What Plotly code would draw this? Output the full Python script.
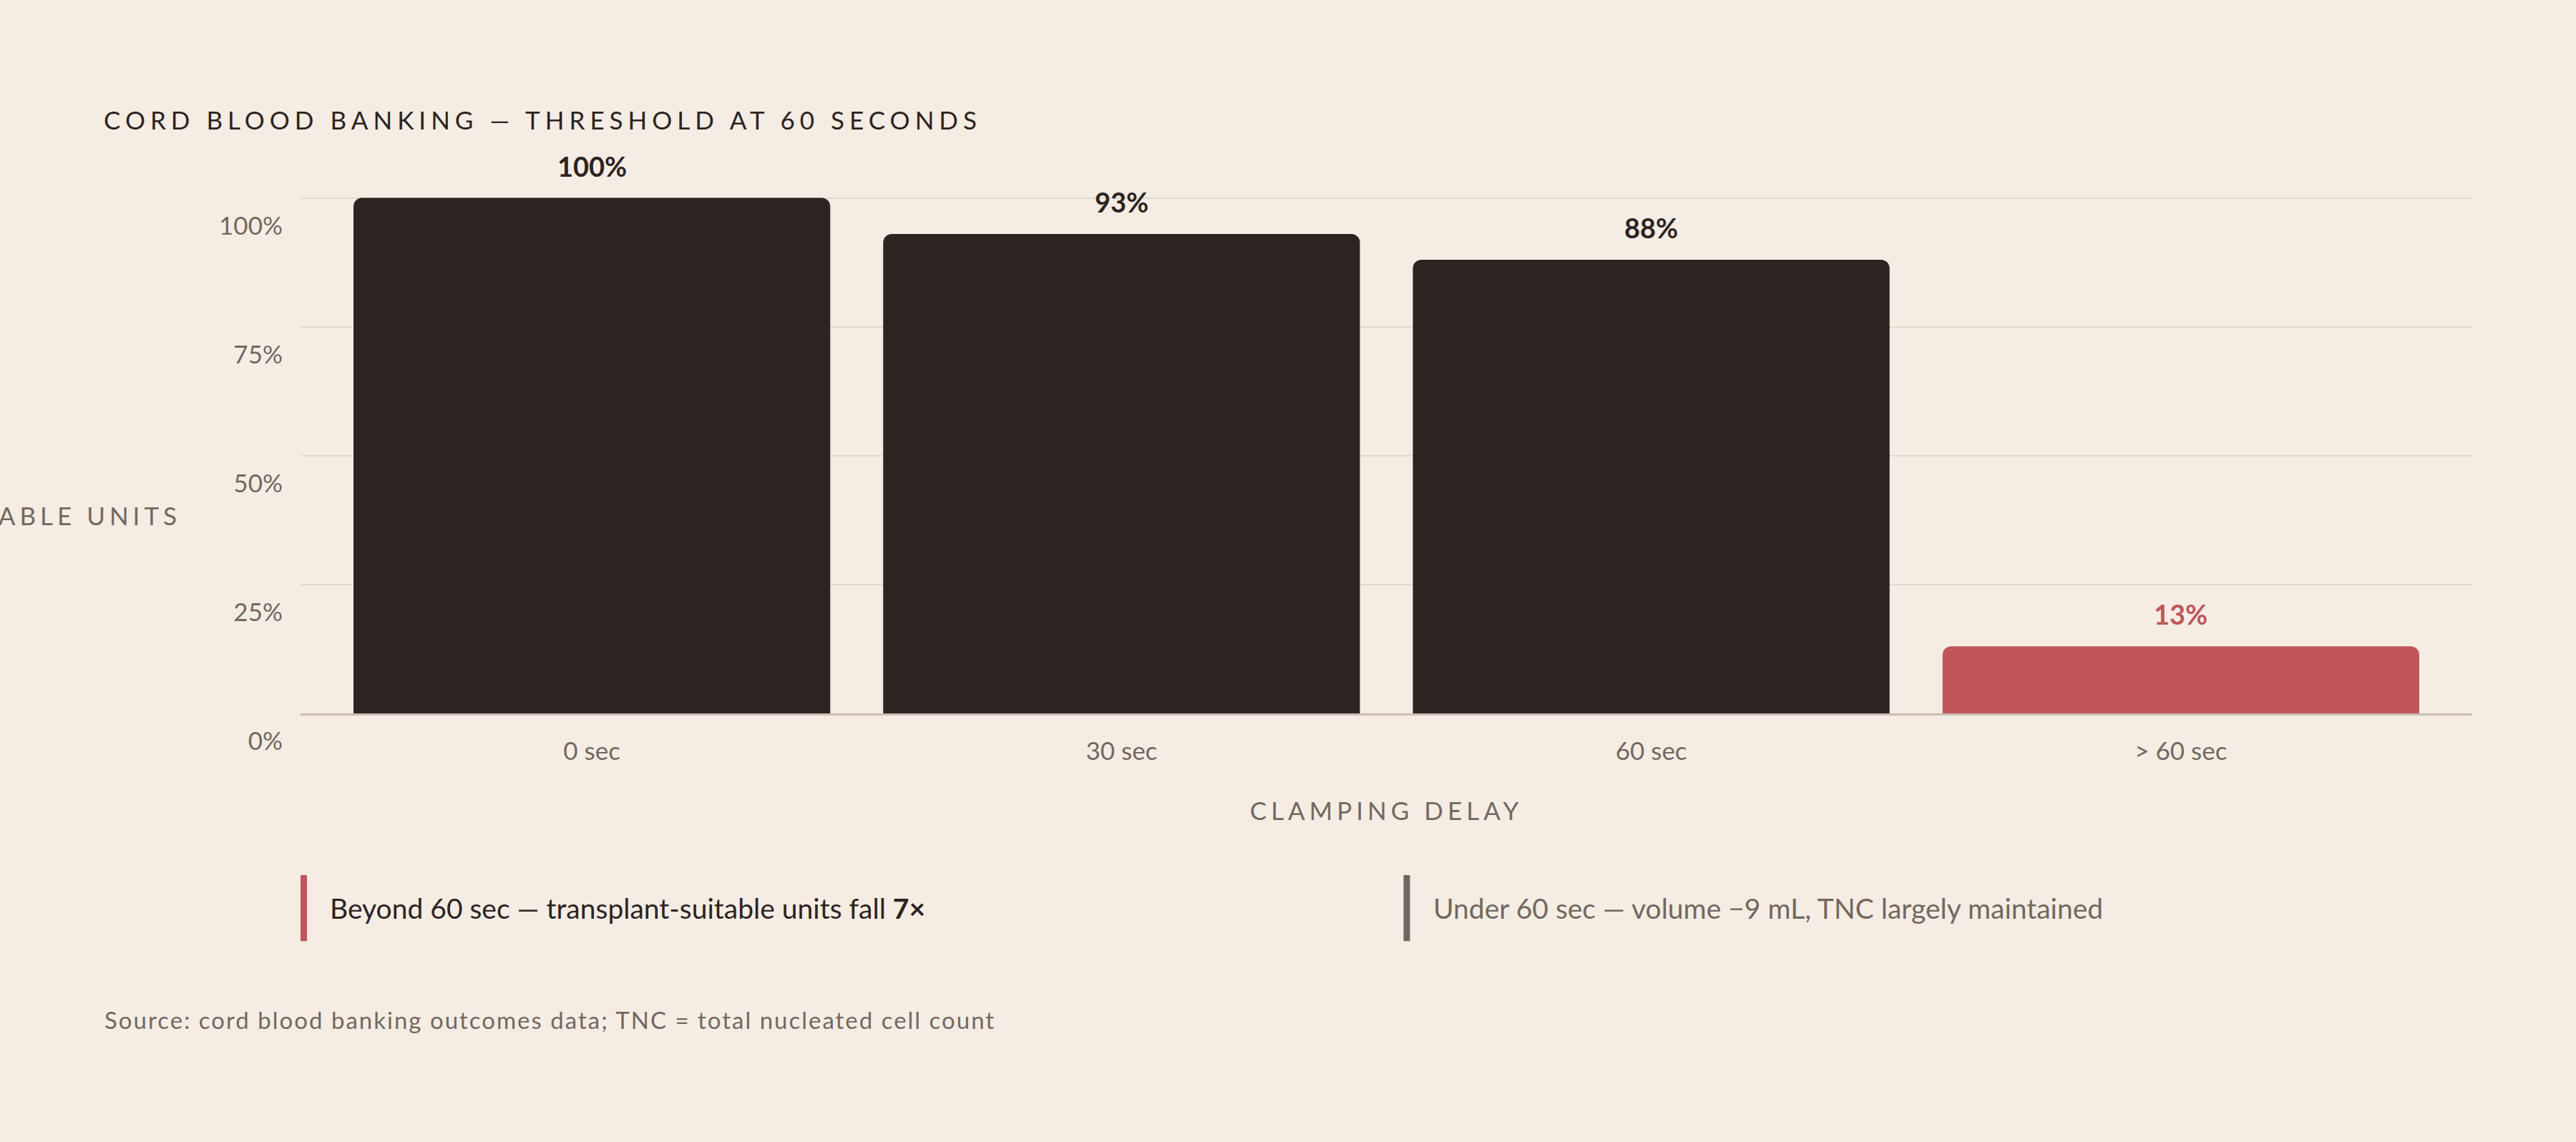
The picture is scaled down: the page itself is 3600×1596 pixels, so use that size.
import plotly.graph_objects as go

# ---- data ----
categories = ["0 sec", "30 sec", "60 sec", "> 60 sec"]
suitable_pct = [100, 93, 88, 13]
label_text = ["100%", "93%", "88%", "13%"]
bar_colors = ["#2d2321", "#2d2321", "#2d2321", "#c0555b"]
label_colors = ["#2d2321", "#2d2321", "#2d2321", "#c0555b"]
y_ticks = [0, 25, 50, 75, 100]
y_tick_text = ["0%", "25%", "50%", "75%", "100%"]

title_text = "CORD BLOOD BANKING \u2014 THRESHOLD AT 60 SECONDS"
y_title = "TRANSPLANT-SUITABLE UNITS"
x_title = "CLAMPING DELAY"
note_1 = "Beyond 60 sec \u2014 transplant-suitable units fall <b>7\u00d7</b>"
note_2 = "Under 60 sec \u2014 volume \u22129 mL, TNC largely maintained"
source = "Source: cord blood banking outcomes data; TNC = total nucleated cell count"

BG = "#f5ede4"
DARK = "#2d2321"
GREY = "#73685f"
RED = "#c0555b"
FONT = "Lato, 'Open Sans', sans-serif"

W, H = 3600, 1596
Y_MAX = 100.5
L, R, B = 420, 145, 599
PH = 720 * Y_MAX / 100          # 0..100 spans 720 px
T = H - B - PH
PW = W - L - R


def px_x(px):
    return (px - L) / PW


def px_y(py):
    return (H - B - py) / PH


fig = go.Figure()
fig.add_trace(go.Bar(
    x=categories,
    y=suitable_pct,
    marker=dict(color=bar_colors, line=dict(width=0), cornerradius=12),
    hoverinfo="skip",
    showlegend=False,
))

annotations = []
# y axis title (horizontal, runs off the left edge)
annotations.append(dict(
    text=y_title, xref="paper", yref="paper", x=px_x(255), y=px_y(720),
    xanchor="right", yanchor="middle", align="right", showarrow=False,
    font=dict(family=FONT, size=35, color=GREY),
))
# value labels
for c, v, t, col in zip(categories, suitable_pct, label_text, label_colors):
    annotations.append(dict(
        text=f"<b>{t}</b>", x=c, y=v, xref="x", yref="y",
        xanchor="center", yanchor="middle", yshift=45, showarrow=False,
        font=dict(family=FONT, size=38, color=col),
    ))
# notes
annotations.append(dict(
    text=note_1, xref="paper", yref="paper", x=px_x(459), y=px_y(1269),
    xanchor="left", yanchor="middle", align="left", showarrow=False,
    font=dict(family=FONT, size=39, color=DARK),
))
annotations.append(dict(
    text=note_2, xref="paper", yref="paper", x=px_x(2001), y=px_y(1269),
    xanchor="left", yanchor="middle", align="left", showarrow=False,
    font=dict(family=FONT, size=39, color=GREY),
))
annotations.append(dict(
    text=source, xref="paper", yref="paper", x=px_x(144), y=px_y(1425),
    xanchor="left", yanchor="middle", align="left", showarrow=False,
    font=dict(family=FONT, size=33, color=GREY),
))

shapes = [
    dict(type="line", xref="paper", yref="paper",
         x0=px_x(424.5), x1=px_x(424.5), y0=px_y(1223), y1=px_y(1315),
         line=dict(color=RED, width=9)),
    dict(type="line", xref="paper", yref="paper",
         x0=px_x(1966), x1=px_x(1966), y0=px_y(1223), y1=px_y(1315),
         line=dict(color="#6f6560", width=9)),
]

fig.update_layout(
    width=W, height=H,
    margin=dict(l=L, r=R, t=T, b=B, pad=0),
    paper_bgcolor=BG, plot_bgcolor=BG,
    bargap=0.1,
    title=dict(
        text=title_text, xref="container", yref="container",
        x=145 / W, xanchor="left", y=1 - 169 / H, yanchor="middle",
        font=dict(family=FONT, size=35, color=DARK),
    ),
    xaxis=dict(
        type="category", range=[-0.55, 3.55],
        showgrid=False, zeroline=False,
        showline=True, linecolor="#c8beb4", linewidth=3,
        ticks="", ticklabelstandoff=20,
        tickfont=dict(family=FONT, size=35, color=GREY),
        title=dict(text=x_title, standoff=54,
                   font=dict(family=FONT, size=35, color=GREY)),
        fixedrange=True,
    ),
    yaxis=dict(
        range=[0, Y_MAX], tickmode="array", tickvals=y_ticks, ticktext=y_tick_text,
        showgrid=True, gridcolor="#e2d9cf", gridwidth=2,
        zeroline=False, showline=False, ticks="",
        ticklabelstandoff=24, ticklabelshift=39,
        tickfont=dict(family=FONT, size=35, color=GREY),
        fixedrange=True,
    ),
    annotations=annotations,
    shapes=shapes,
    font=dict(family=FONT),
)

post = """
document.documentElement.style.margin = '0';
document.body.style.margin = '0';
document.body.style.padding = '0';
document.body.style.overflow = 'hidden';
document.body.style.background = '#f5ede4';
var gd = document.getElementById('{plot_id}');
function sp(sel, v){ gd.querySelectorAll(sel).forEach(function(e){ e.style.letterSpacing = v; }); }
sp('.gtitle', '7px');
sp('.xtitle', '6px');
sp('.annotation[data-index="0"] .annotation-text', '6px');
sp('.annotation[data-index="7"] .annotation-text', '2px');
"""

fig.write_html("out.html", post_script=post, config={"displayModeBar": False})
